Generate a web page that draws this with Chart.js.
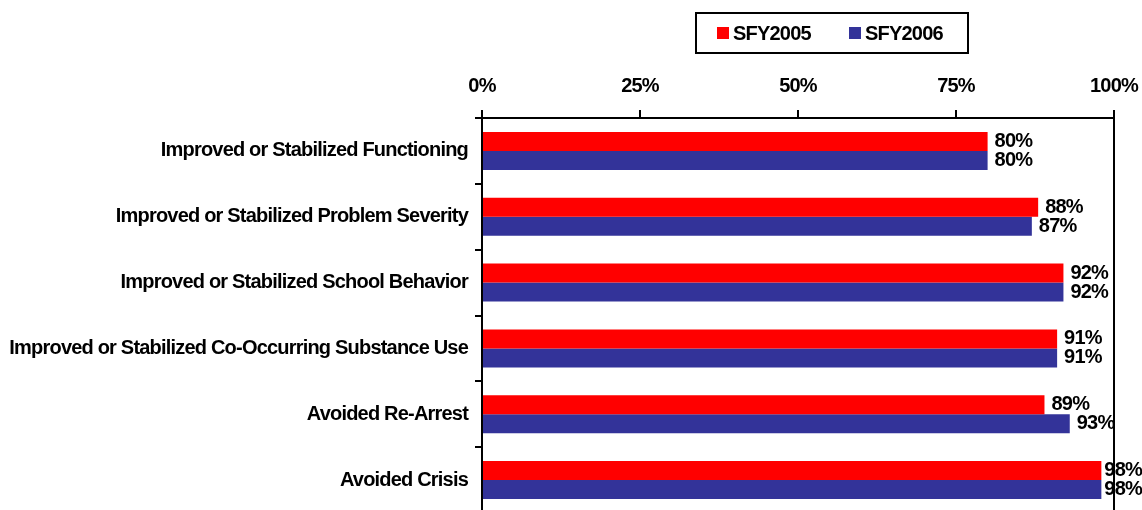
<!DOCTYPE html>
<html>
<head>
<meta charset="utf-8">
<script src="https://cdn.jsdelivr.net/npm/chart.js@4/dist/chart.umd.min.js"></script>
<style>
  html, body { margin: 0; padding: 0; background: #fff; overflow: hidden; width: 1142px; height: 510px; }
  #wrap { position: relative; width: 1142px; height: 514px; }
  #legend { position: absolute; left: 695px; top: 12px; width: 274px; height: 42px; box-sizing: border-box;
    border: 2px solid #000; font: bold 20px "Liberation Sans", Arial, sans-serif; letter-spacing: -0.8px; color: #000; }
  .item { position: absolute; top: 7px; height: 24px; line-height: 24px; white-space: nowrap; }
  .sw { position: absolute; top: 6px; width: 12px; height: 12px; }
  .lab { position: absolute; left: 16px; top: 0; }
</style>
</head>
<body>
<div id="wrap">
  <canvas id="c" width="1142" height="514"></canvas>
  <div id="legend"></div>
</div>
<script>
const categories = [
  "Improved or Stabilized Functioning",
  "Improved or Stabilized Problem Severity",
  "Improved or Stabilized School Behavior",
  "Improved or Stabilized Co-Occurring Substance Use",
  "Avoided Re-Arrest",
  "Avoided Crisis"
];
const seriesNames = ["SFY2005", "SFY2006"];
const sfy2005 = [80, 88, 92, 91, 89, 98];
const sfy2006 = [80, 87, 92, 91, 93, 98];
const xTicks = [0, 25, 50, 75, 100];
const colors = ["#FF0000", "#333399"];

const FONT = '"Liberation Sans", Arial, sans-serif';
const LS = '-0.8px';
Chart.defaults.font = { family: FONT, size: 20, weight: 'bold' };
Chart.defaults.color = '#000';

// legend
const leg = document.getElementById('legend');
const legX = [20, 152];
seriesNames.forEach((n, i) => {
  const it = document.createElement('div');
  it.className = 'item';
  it.style.left = legX[i] + 'px';
  it.innerHTML = '<span class="sw" style="background:' + colors[i] + '"></span><span class="lab">' + n + '</span>';
  leg.appendChild(it);
});

const spacingPlugin = {
  id: 'spacing',
  beforeLayout(chart) { chart.ctx.letterSpacing = LS; },
  beforeDraw(chart) { chart.ctx.letterSpacing = LS; }
};

const framePlugin = {
  id: 'frame',
  beforeDatasetsDraw(chart) {
    const { ctx, chartArea } = chart;
    ctx.save();
    ctx.strokeStyle = '#000';
    ctx.lineWidth = 2;
    ctx.beginPath();
    ctx.moveTo(chartArea.right, chartArea.top);
    ctx.lineTo(chartArea.right, chartArea.bottom + 2);
    ctx.stroke();
    ctx.restore();
  }
};

const valueLabels = {
  id: 'valueLabels',
  afterDatasetsDraw(chart) {
    const ctx = chart.ctx;
    ctx.save();
    ctx.letterSpacing = LS;
    ctx.font = 'bold 20px ' + FONT;
    ctx.fillStyle = '#000';
    ctx.textAlign = 'left';
    ctx.textBaseline = 'middle';
    chart.data.datasets.forEach((ds, di) => {
      const meta = chart.getDatasetMeta(di);
      meta.data.forEach((el, i) => {
        const txt = ds.data[i] + '%';
        const w = ctx.measureText(txt).width;
        const x = Math.min(el.x + 7, chart.width - w);
        ctx.fillText(txt, x, el.y);
      });
    });
    ctx.restore();
  }
};

new Chart(document.getElementById('c'), {
  type: 'bar',
  data: {
    labels: categories,
    datasets: [
      { label: seriesNames[0], data: sfy2005, backgroundColor: colors[0], borderWidth: 0 },
      { label: seriesNames[1], data: sfy2006, backgroundColor: colors[1], borderWidth: 0 }
    ]
  },
  options: {
    indexAxis: 'y',
    responsive: false,
    animation: false,
    devicePixelRatio: 1,
    layout: { padding: { top: 74, right: 28, bottom: 1, left: 0 } },
    plugins: { legend: { display: false }, tooltip: { enabled: false } },
    datasets: { bar: { categoryPercentage: 0.578, barPercentage: 1 } },
    scales: {
      x: {
        position: 'top',
        min: 0, max: 100,
        afterBuildTicks(scale) { scale.ticks = xTicks.map(v => ({ value: v })); },
        afterFit(scale) { scale.height = 44; scale.paddingLeft = 0; scale.paddingRight = 0; },
        ticks: { callback: v => v + '%', padding: 12, maxRotation: 0, font: { size: 20, weight: 'bold' } },
        grid: { drawOnChartArea: false, drawTicks: true, tickLength: 8, color: '#000', lineWidth: 2 },
        border: { display: true, color: '#000', width: 2 }
      },
      y: {
        afterFit(scale) { scale.width = 482; scale.paddingTop = 0; scale.paddingBottom = 0; },
        ticks: { padding: 7, font: { size: 20, weight: 'bold' }, autoSkip: false },
        grid: { offset: true, drawOnChartArea: false, drawTicks: true, tickLength: 7, color: '#000', lineWidth: 2 },
        border: { display: true, color: '#000', width: 2 }
      }
    }
  },
  plugins: [spacingPlugin, framePlugin, valueLabels]
});
</script>
</body>
</html>
